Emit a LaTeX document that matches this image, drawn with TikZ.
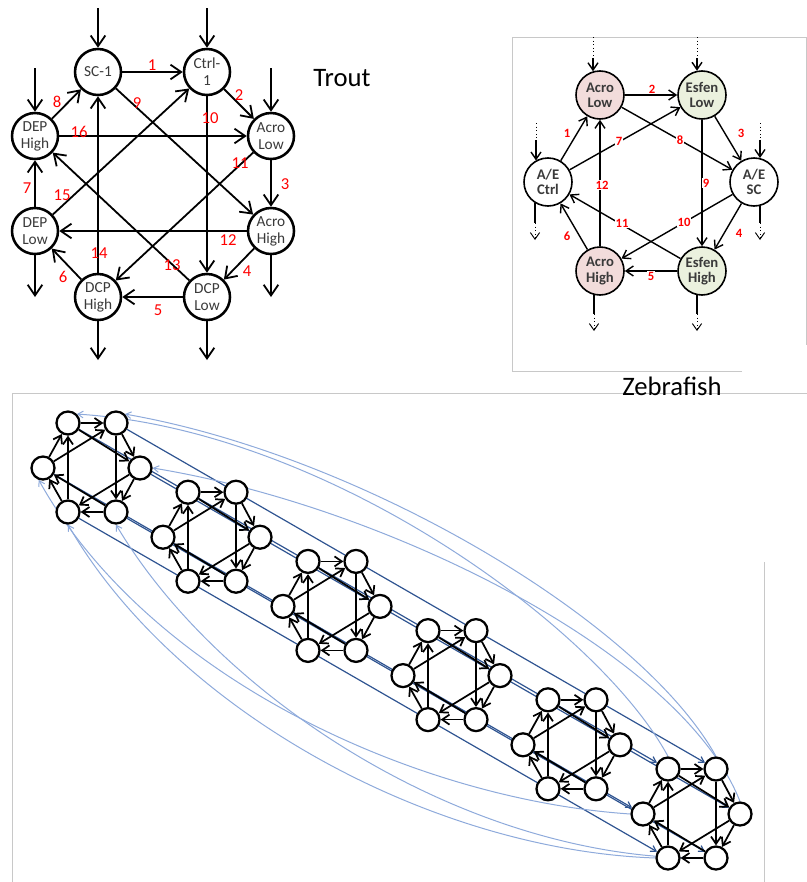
\documentclass[tikz,border=0pt]{standalone}
\usepackage{fontspec}
\setmainfont{Carlito}
\usetikzlibrary{arrows.meta,backgrounds}
\definecolor{txtgray}{HTML}{3A3A3A}
\definecolor{lblred}{HTML}{FF0000}
\definecolor{acrofill}{HTML}{F2DCDB}
\definecolor{esfenfill}{HTML}{EBF1DE}
\definecolor{deepblue}{HTML}{2F5491}
\definecolor{paleblue}{HTML}{8EAADB}
\definecolor{framegray}{HTML}{C8C8C8}

\begin{document}
\begin{tikzpicture}[x=0.75pt,y=-0.75pt,
  tnode/.style={circle,draw,line width=1.9pt,fill=white,minimum size=34.5pt,inner sep=0pt,align=center,text=txtgray,font=\fontsize{11.5}{12.75}\selectfont},
  tedge/.style={line width=1.35pt,-{Straight Barb[length=8pt,width=11pt]}},
  tlabel/.style={text=lblred,font=\fontsize{12.5}{14}\selectfont,inner sep=0pt},
  znode/.style={circle,draw,line width=1.2pt,minimum size=36pt,inner sep=0pt,align=center,text=txtgray,font=\bfseries\fontsize{11}{11.5}\selectfont},
  zline/.style={line width=1.05pt},
  zedge/.style={zline,-{Straight Barb[length=5.5pt,width=7.5pt]}},
  zlabel/.style={text=lblred,font=\bfseries\fontsize{9.5}{10}\selectfont,fill=white,inner sep=0.5pt},
  zdots/.style={line width=0.7pt,dotted},
  hnode/.style={circle,draw,line width=1.7pt,fill=white,minimum size=17.25pt,inner sep=0pt},
  hedge/.style={line width=1.3pt,-{Straight Barb[length=5.5pt,width=7.5pt]}},
  fwd/.style={deepblue,line width=0.9pt,-{Straight Barb[length=4pt,width=5pt]}},
  back/.style={paleblue,line width=0.75pt,-{Straight Barb[length=4pt,width=5pt]}},
  frame/.style={framegray,line width=0.75pt},
  title/.style={font=\fontsize{20}{24}\selectfont,text=black,anchor=base,inner sep=0pt}
]
\useasboundingbox (0,0) rectangle (807,882);

% ---------------- panel frames ----------------
\draw[frame] (742,371) -- (512,371) -- (512,37) -- (806,37) -- (806,345);
\draw[frame] (12,882) -- (12,393) -- (807,393);
\draw[frame] (764,562) -- (764,882);

% ---------------- trout network ----------------
\node[tnode] (sc) at (98,72) {SC-1};
\node[tnode] (ct) at (207,72) {Ctrl-\\1};
\node[tnode] (al) at (271,136) {Acro\\Low};
\node[tnode] (dh) at (35,136) {DEP\\High};
\node[tnode] (dl) at (35,231) {DEP\\Low};
\node[tnode] (ah) at (271,231) {Acro\\High};
\node[tnode] (ch) at (98,297) {DCP\\High};
\node[tnode] (cl) at (207,297) {DCP\\Low};

\draw[tedge] (sc) -- (ct);
\draw[tedge] (ct) -- (al);
\draw[tedge] (al) -- (ah);
\draw[tedge] (ah) -- (cl);
\draw[tedge] (cl) -- (ch);
\draw[tedge] (ch) -- (dl);
\draw[tedge] (dl) -- (dh);
\draw[tedge] (dh) -- (sc);
\draw[tedge] (sc) -- (ah);
\draw[tedge] (ct) -- (cl);
\draw[tedge] (al) -- (ch);
\draw[tedge] (ah) -- (dl);
\draw[tedge] (cl) -- (dh);
\draw[tedge] (ch) -- (sc);
\draw[tedge] (dl) -- (ct);
\draw[tedge] (dh) -- (al);

\coordinate (tin1) at (98,8);
\coordinate (tin2) at (207,8);
\coordinate (tin3) at (35,68);
\coordinate (tin4) at (271,68);
\coordinate (tout1) at (35,297);
\coordinate (tout2) at (271,297);
\coordinate (tout3) at (98,360);
\coordinate (tout4) at (207,360);
\draw[tedge] (tin1) -- (sc);
\draw[tedge] (tin2) -- (ct);
\draw[tedge] (tin3) -- (dh);
\draw[tedge] (tin4) -- (al);
\draw[tedge] (dl) -- (tout1);
\draw[tedge] (ah) -- (tout2);
\draw[tedge] (ch) -- (tout3);
\draw[tedge] (cl) -- (tout4);

\node[tlabel] (t1) at (152,65) {1};
\node[tlabel] (t2) at (239,95) {2};
\node[tlabel] (t3) at (285,184) {3};
\node[tlabel] (t4) at (247,271) {4};
\node[tlabel] (t5) at (158,310) {5};
\node[tlabel] (t6) at (63,277) {6};
\node[tlabel] (t7) at (27,188) {7};
\node[tlabel] (t8) at (57,102) {8};
\node[tlabel] (t9) at (137,103) {9};
\node[tlabel] (t10) at (210,118) {10};
\node[tlabel] (t11) at (240,163) {11};
\node[tlabel] (t12) at (228,240) {12};
\node[tlabel] (t13) at (172,265) {13};
\node[tlabel] (t14) at (99,253) {14};
\node[tlabel] (t15) at (62,195) {15};
\node[tlabel] (t16) at (79,132) {16};

\node[title] (trout) at (342,86) {Trout};

% ---------------- zebrafish network ----------------
\node[znode,fill=acrofill] (zal) at (600,95) {Acro\\Low};
\node[znode,fill=esfenfill] (zel) at (702,95) {Esfen\\Low};
\node[znode,fill=white] (zc) at (548,182) {A/E\\Ctrl};
\node[znode,fill=white] (zs) at (754,182) {A/E\\SC};
\node[znode,fill=acrofill] (zah) at (600,271) {Acro\\High};
\node[znode,fill=esfenfill] (zeh) at (702,271) {Esfen\\High};

\draw[zedge] (zc) -- (zal);
\draw[zedge] (zal) -- (zel);
\draw[zedge] (zel) -- (zs);
\draw[zedge] (zs) -- (zeh);
\draw[zedge] (zeh) -- (zah);
\draw[zedge] (zah) -- (zc);
\draw[zedge] (zc) -- (zel);
\draw[zedge] (zal) -- (zs);
\draw[zedge] (zel) -- (zeh);
\draw[zedge] (zs) -- (zah);
\draw[zedge] (zeh) -- (zc);
\draw[zedge] (zah) -- (zal);

% inputs: dotted lead-in, solid arrow into the node
\coordinate (zi1) at (593,37);  \coordinate (zi1b) at (593,58);
\coordinate (zi2) at (697,37);  \coordinate (zi2b) at (697,58);
\coordinate (zi3) at (536,123); \coordinate (zi3b) at (536,140);
\coordinate (zi4) at (760,123); \coordinate (zi4b) at (760,140);
\draw[zdots] (zi1) -- (zi1b);
\draw[zdots] (zi2) -- (zi2b);
\draw[zdots] (zi3) -- (zi3b);
\draw[zdots] (zi4) -- (zi4b);
\draw[zedge] (zi1b) -- (zi1b |- zal.107);
\draw[zedge] (zi2b) -- (zi2b |- zel.102);
\draw[zedge] (zi3b) -- (zi3b |- zc.120);
\draw[zedge] (zi4b) -- (zi4b |- zs.75);

% outputs: solid lead-out, dotted tail with arrow
\coordinate (zo1) at (535,223); \coordinate (zo1b) at (535,240);
\coordinate (zo2) at (760,223); \coordinate (zo2b) at (760,240);
\coordinate (zo3) at (594,314); \coordinate (zo3b) at (594,331);
\coordinate (zo4) at (697,314); \coordinate (zo4b) at (697,331);
\draw[zline] (zo1 |- zc.237) -- (zo1);
\draw[zline] (zo2 |- zs.285) -- (zo2);
\draw[zline] (zo3 |- zah.256) -- (zo3);
\draw[zline] (zo4 |- zeh.258) -- (zo4);
\draw[zdots,-{Straight Barb[length=5pt,width=7pt]}] (zo1) -- (zo1b);
\draw[zdots,-{Straight Barb[length=5pt,width=7pt]}] (zo2) -- (zo2b);
\draw[zdots,-{Straight Barb[length=5pt,width=7pt]}] (zo3) -- (zo3b);
\draw[zdots,-{Straight Barb[length=5pt,width=7pt]}] (zo4) -- (zo4b);

\node[zlabel] (z1) at (567,133) {1};
\node[zlabel] (z2) at (652,89) {2};
\node[zlabel] (z3) at (741,133) {3};
\node[zlabel] (z4) at (739,233) {4};
\node[zlabel] (z5) at (651,276) {5};
\node[zlabel] (z6) at (567,236) {6};
\node[zlabel] (z7) at (619,141) {7};
\node[zlabel] (z8) at (680,140) {8};
\node[zlabel] (z9) at (706,183) {9};
\node[zlabel] (z10) at (684,222) {10};
\node[zlabel] (z11) at (622,223) {11};
\node[zlabel] (z12) at (602,185) {12};

\node[title] (zebra) at (672,395) {Zebrafish};

% ---------------- chain of six networks ----------------
\foreach \k in {0,...,5}{
  \begin{scope}[shift={(120*\k,69.2*\k)}]
    \node[hnode] (h\k-1) at (68,423) {};
    \node[hnode] (h\k-2) at (116,423) {};
    \node[hnode] (h\k-3) at (140,468) {};
    \node[hnode] (h\k-4) at (116,512) {};
    \node[hnode] (h\k-5) at (68,512) {};
    \node[hnode] (h\k-6) at (43,468) {};
  \end{scope}
  \draw[hedge] (h\k-1) -- (h\k-2);
  \draw[hedge] (h\k-2) -- (h\k-3);
  \draw[hedge] (h\k-3) -- (h\k-4);
  \draw[hedge] (h\k-4) -- (h\k-5);
  \draw[hedge] (h\k-5) -- (h\k-6);
  \draw[hedge] (h\k-6) -- (h\k-1);
  \draw[hedge] (h\k-6) -- (h\k-2);
  \draw[hedge] (h\k-1) -- (h\k-3);
  \draw[hedge] (h\k-2) -- (h\k-4);
  \draw[hedge] (h\k-3) -- (h\k-5);
  \draw[hedge] (h\k-4) -- (h\k-6);
  \draw[hedge] (h\k-5) -- (h\k-1);
}

\begin{scope}[on background layer]
  % straight links from the first network to the last
  \foreach \i in {1,...,6}{
    \draw[fwd] (h0-\i) -- (h5-\i);
  }
  % returning links from the last network to the first
  \draw[back] (h5-1.north) .. controls (600,630) and (330,430) .. (h0-1.45);
  \draw[back] (h5-2.north) .. controls (640,620) and (360,455) .. (h0-2.45);
  \draw[back] (h5-3.north) .. controls (680,650) and (380,505) .. (h0-3.east);
  \draw[back] (h5-6.west) .. controls (420,800) and (150,680) .. (h0-6.250);
  \draw[back] (h5-5.west) .. controls (430,850) and (175,710) .. (h0-5.south);
  \draw[back] (h5-4.west) .. controls (470,860) and (220,700) .. (h0-4.south);
\end{scope}

\end{tikzpicture}
\end{document}
